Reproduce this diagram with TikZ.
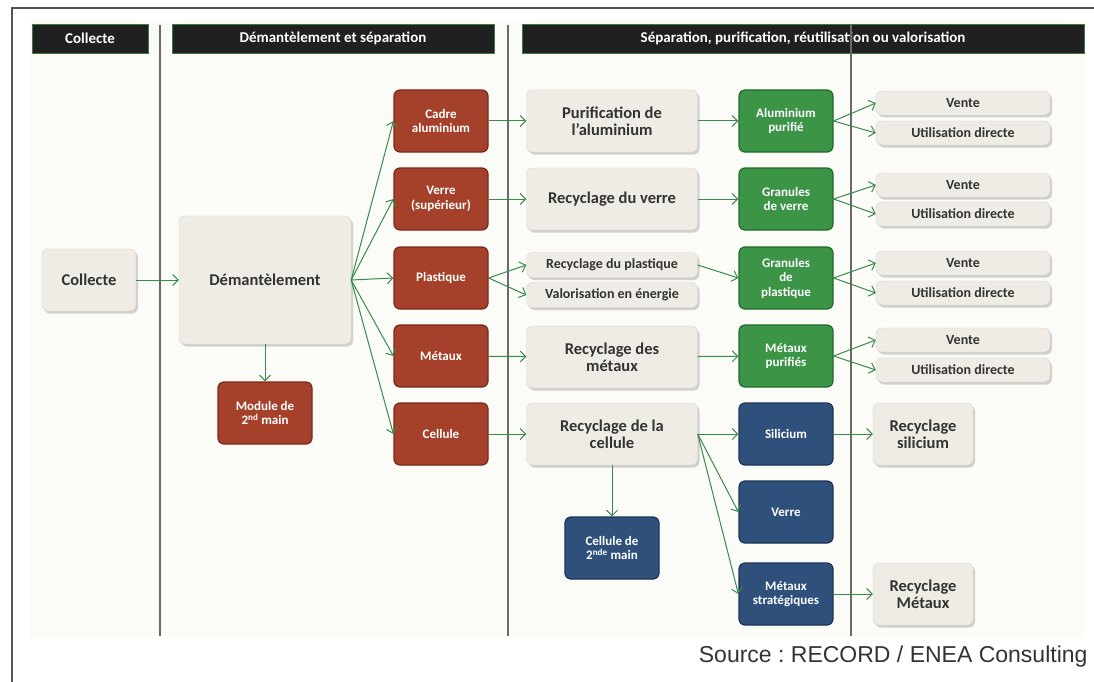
\documentclass[tikz,border=0pt]{standalone}
\usepackage{fontspec}
\setmainfont{Carlito}
\newfontfamily\arialfont{Liberation Sans}
\definecolor{KBrick}{HTML}{A5412A}
\definecolor{KBrickDark}{HTML}{7A2919}
\definecolor{KLeaf}{HTML}{3C9447}
\definecolor{KLeafDark}{HTML}{226A2D}
\definecolor{KSteel}{HTML}{30507C}
\definecolor{KSteelDark}{HTML}{1C3456}
\definecolor{KSand}{HTML}{EEECE4}
\definecolor{KSandEdge}{HTML}{D6D3C8}
\definecolor{KArrow}{HTML}{3A8A4A}
\definecolor{KHead}{HTML}{202020}
\definecolor{KHeadEdge}{HTML}{3C7A40}
\definecolor{KRule}{HTML}{6A6A6A}
\definecolor{KInk}{HTML}{333333}
\definecolor{KPanel}{HTML}{FBFBF8}
\usepackage{tikz}
\usetikzlibrary{arrows.meta,positioning,shadows}

\tikzset{
  sandbox/.style={rectangle,rounded corners=6pt,fill=KSand,draw=KSandEdge,
    line width=0.4pt,text=KInk,align=center,inner sep=0pt,
    drop shadow={shadow xshift=2pt,shadow yshift=-2.5pt,opacity=0.35}},
  bigtxt/.style={font=\bfseries\fontsize{16.5}{17}\selectfont},
  smalltxt/.style={font=\bfseries\fontsize{14}{15}\selectfont},
  colbox/.style={rectangle,rounded corners=6pt,line width=1.2pt,text=white,
    align=center,inner sep=0pt,minimum width=94pt,minimum height=62pt,
    font=\bfseries\fontsize{13}{14.5}\selectfont},
  brick/.style={colbox,fill=KBrick,draw=KBrickDark},
  leaf/.style={colbox,fill=KLeaf,draw=KLeafDark},
  steel/.style={colbox,fill=KSteel,draw=KSteelDark},
  headbar/.style={rectangle,fill=KHead,draw=KHeadEdge,line width=0.8pt,
    text=white,minimum height=29pt,inner sep=0pt,
    font=\bfseries\fontsize{15}{16}\selectfont},
  flow/.style={draw=KArrow,line width=1pt,-{Straight Barb[length=5.5pt,width=11pt]}},
  divider/.style={draw=KRule,line width=1.2pt}
}

\begin{document}
\begin{tikzpicture}[x=1pt,y=-1pt]
  \useasboundingbox (0,0) rectangle (1094,682);
  \fill[KPanel] (30,20) rectangle (1085,638);
  \draw[KRule!80!black,line width=1.4pt] (12,682) -- (12,8) -- (1094,8);

  % column headers
  \node[headbar,minimum width=116pt] (hColl) at (90,38.5) {Collecte};
  \node[headbar,minimum width=322pt] (hDem) at (333,38.5) {Démantèlement et séparation};
  \node[headbar,minimum width=562pt] (hSep) at (803,38.5)
    {Séparation, purification, réutilisation ou valorisation};
  \draw[divider] (160,25) -- (160,636);
  \draw[divider] (508,25) -- (508,636);
  \draw[divider] (851,25) -- (851,636);

  % collecte and dismantling
  \node[sandbox,bigtxt,minimum width=94pt,minimum height=62pt] (collecte) at (89,280) {Collecte};
  \node[sandbox,bigtxt,minimum width=172pt,minimum height=128pt] (dem) at (265,280) {Démantèlement};
  \node[brick] (module) at (265,413) {Module de\\2\textsuperscript{nd} main};
  \node[brick] (cadre) at (441,121) {Cadre\\aluminium};
  \node[brick] (verre) at (441,199) {Verre\\(supérieur)};
  \node[brick] (plast) at (441,278) {Plastique};
  \node[brick] (metaux) at (441,356) {Métaux};
  \node[brick] (cellule) at (441,434) {Cellule};

  % treatment
  \node[sandbox,bigtxt,minimum width=171pt,minimum height=62pt] (purAlu) at (612,121) {Purification de\\l'aluminium};
  \node[sandbox,bigtxt,minimum width=171pt,minimum height=62pt] (recVerre) at (612,199) {Recyclage du verre};
  \node[sandbox,smalltxt,minimum width=171pt,minimum height=25pt] (recPlast) at (612,265) {Recyclage du plastique};
  \node[sandbox,smalltxt,minimum width=171pt,minimum height=25pt] (valor) at (612,295) {Valorisation en énergie};
  \node[sandbox,bigtxt,minimum width=171pt,minimum height=62pt] (recMet) at (612,357) {Recyclage des\\métaux};
  \node[sandbox,bigtxt,minimum width=171pt,minimum height=62pt] (recCell) at (612,434) {Recyclage de la\\cellule};
  \node[steel] (cell2) at (612,548) {Cellule de\\2\textsuperscript{nde} main};

  \node[leaf] (aluP) at (786,121) {Aluminium\\purifié};
  \node[leaf] (granV) at (786,199) {Granules\\de verre};
  \node[leaf] (granP) at (786,278) {Granules\\de\\plastique};
  \node[leaf] (metP) at (786,356) {Métaux\\purifiés};
  \node[steel] (sili) at (786,434) {Silicium};
  \node[steel] (verreB) at (786,512) {Verre};
  \node[steel] (metS) at (786,594) {Métaux\\stratégiques};

  % outlets
  \node[sandbox,smalltxt,minimum width=174pt,minimum height=24pt] (v1) at (963,103) {Vente};
  \node[sandbox,smalltxt,minimum width=174pt,minimum height=24pt] (u1) at (963,133) {Utilisation directe};
  \node[sandbox,smalltxt,minimum width=174pt,minimum height=24pt] (v2) at (963,185) {Vente};
  \node[sandbox,smalltxt,minimum width=174pt,minimum height=24pt] (u2) at (963,214) {Utilisation directe};
  \node[sandbox,smalltxt,minimum width=174pt,minimum height=24pt] (v3) at (963,263) {Vente};
  \node[sandbox,smalltxt,minimum width=174pt,minimum height=24pt] (u3) at (963,293) {Utilisation directe};
  \node[sandbox,smalltxt,minimum width=174pt,minimum height=24pt] (v4) at (963,340) {Vente};
  \node[sandbox,smalltxt,minimum width=174pt,minimum height=24pt] (u4) at (963,370) {Utilisation directe};
  \node[sandbox,bigtxt,minimum width=100pt,minimum height=62pt] (recSil) at (923,434) {Recyclage\\silicium};
  \node[sandbox,bigtxt,minimum width=100pt,minimum height=62pt] (recMx) at (923,594) {Recyclage\\Métaux};

  \node[anchor=east,text=KInk,font=\arialfont\frenchspacing\fontsize{23}{26}\selectfont] (source) at (1091,657)
    {Source : RECORD / ENEA Consulting};

  % connectors
  \draw[flow] (collecte) -- (dem);
  \draw[flow] (dem) -- (module);
  \foreach \t in {cadre,verre,plast,metaux,cellule}
    \draw[flow] (dem.east) -- (\t.west);
  \draw[flow] (cadre) -- (purAlu);
  \draw[flow] (verre) -- (recVerre);
  \draw[flow] (plast.east) -- (recPlast.west);
  \draw[flow] (plast.east) -- (valor.west);
  \draw[flow] (metaux) -- (recMet);
  \draw[flow] (cellule) -- (recCell);
  \draw[flow] (purAlu) -- (aluP);
  \draw[flow] (recVerre) -- (granV);
  \draw[flow] (recPlast.east) -- (granP.west);
  \draw[flow] (recMet) -- (metP);
  \draw[flow] (recCell) -- (cell2);
  \foreach \t in {sili,verreB,metS}
    \draw[flow] (recCell.east) -- (\t.west);
  \draw[flow] (aluP.east) -- (v1.west);
  \draw[flow] (aluP.east) -- (u1.west);
  \draw[flow] (granV.east) -- (v2.west);
  \draw[flow] (granV.east) -- (u2.west);
  \draw[flow] (granP.east) -- (v3.west);
  \draw[flow] (granP.east) -- (u3.west);
  \draw[flow] (metP.east) -- (v4.west);
  \draw[flow] (metP.east) -- (u4.west);
  \draw[flow] (sili) -- (recSil);
  \draw[flow] (metS) -- (recMx);
\end{tikzpicture}
\end{document}
